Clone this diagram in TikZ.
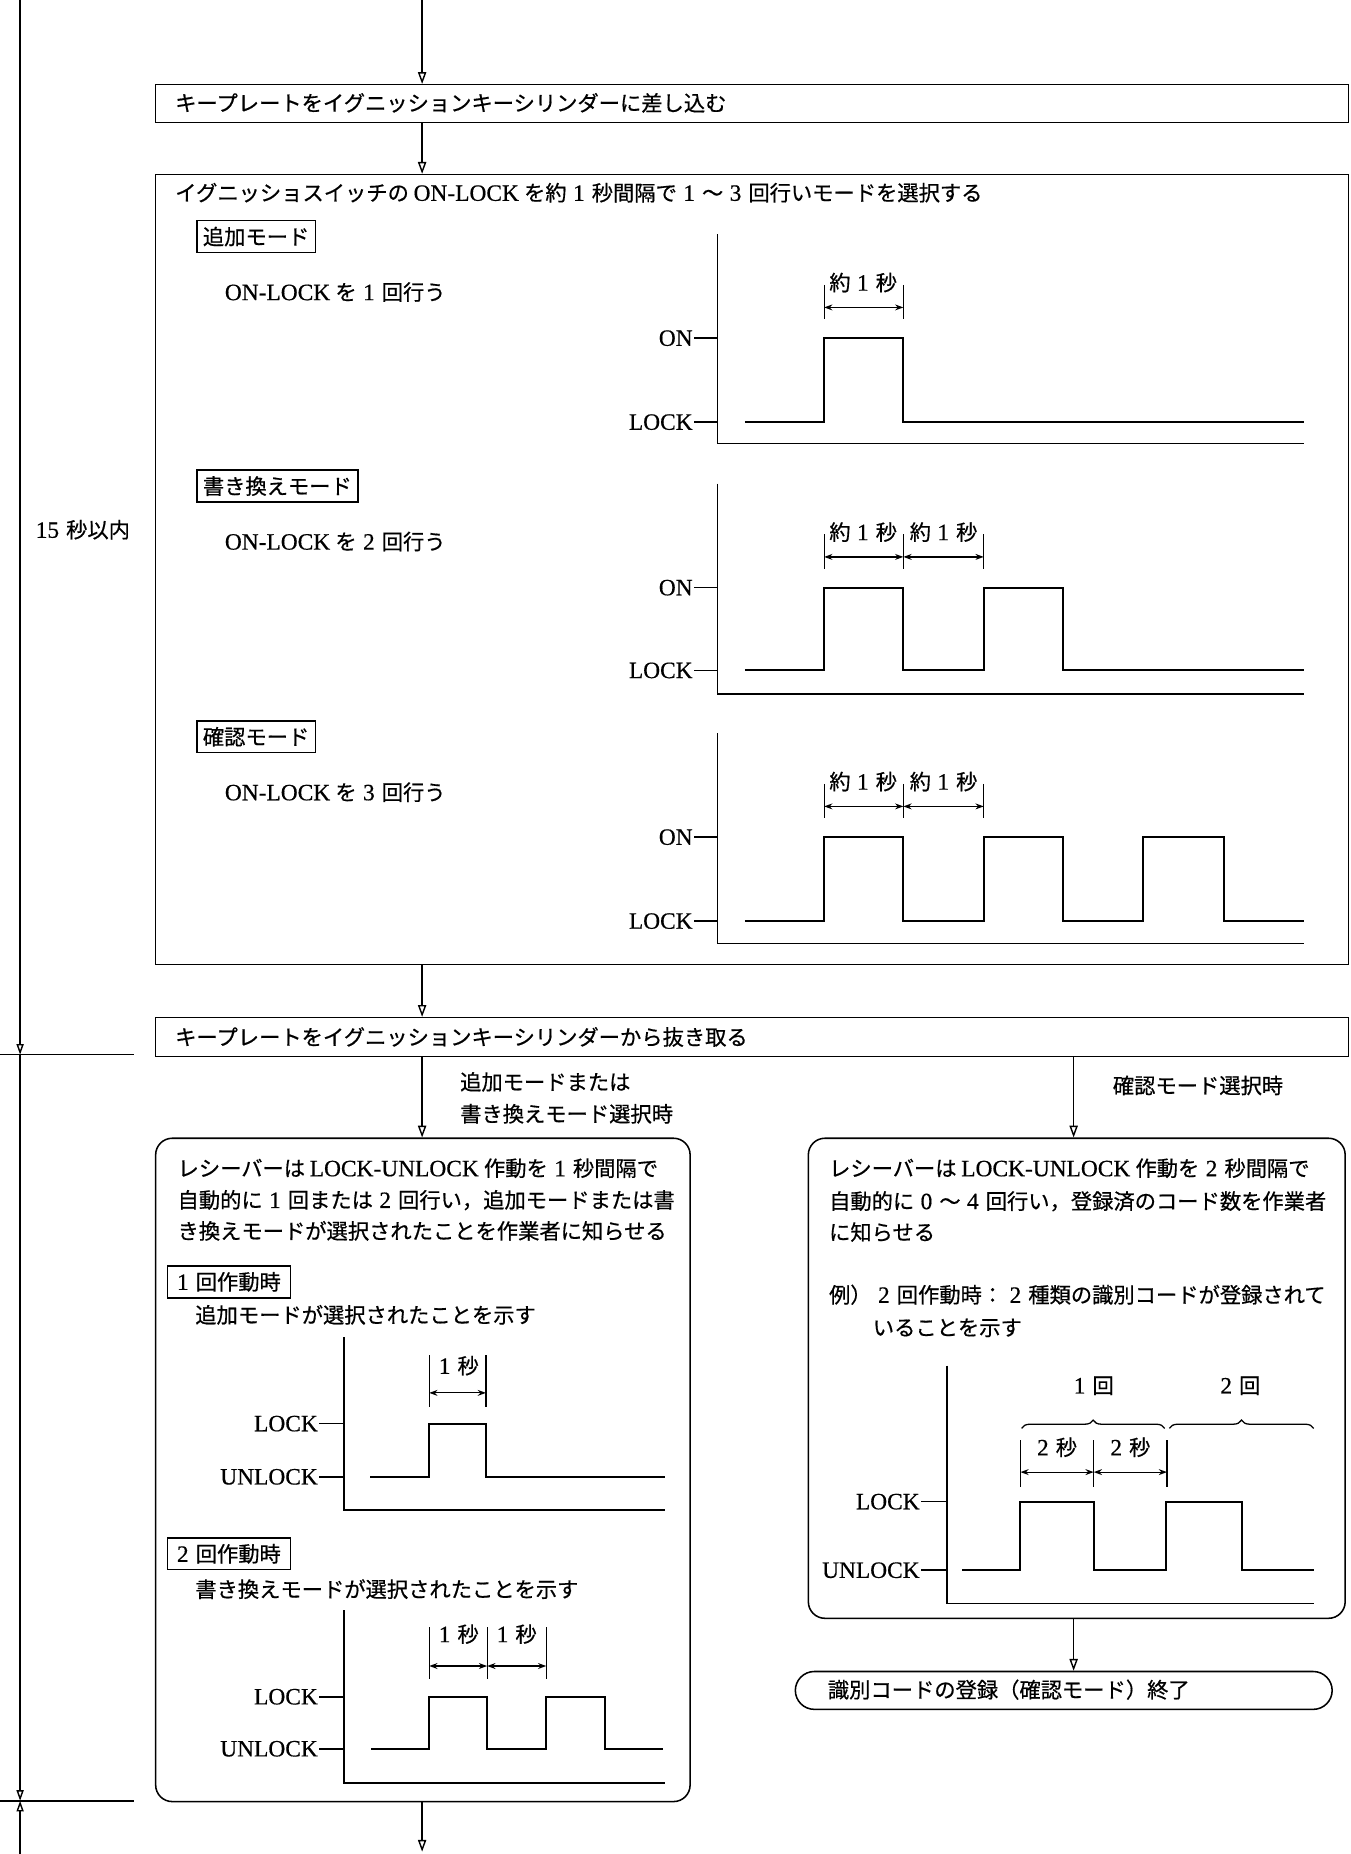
\documentclass[tikz,border=0pt]{standalone}
\usepackage{fontspec}
\setmainfont{Noto Sans CJK JP}[FakeBold=0.6]
\newfontfamily\cjkfont{Noto Sans CJK JP}[FakeBold=0.6]
\newfontfamily\latfont{Liberation Serif}[Scale=1.1,FakeBold=0.5]
\usetikzlibrary{arrows.meta,decorations.pathreplacing}
\newcount\jpcnt
\jpcnt="3000
\loop\ifnum\jpcnt<"A000 \XeTeXcharclass\jpcnt=100 \advance\jpcnt by 1 \repeat
\jpcnt="FF00
\loop\ifnum\jpcnt<"FFF0 \XeTeXcharclass\jpcnt=100 \advance\jpcnt by 1 \repeat
\jpcnt=`0
\loop\ifnum\jpcnt<58 \XeTeXcharclass\jpcnt=101 \advance\jpcnt by 1 \repeat
\XeTeXinterchartoks 0 100 = {\hskip.22em\cjkfont}
\XeTeXinterchartoks 100 0 = {\hskip.22em\latfont}
\XeTeXinterchartoks 4095 0 = {\latfont}
\XeTeXinterchartoks 4095 100 = {\cjkfont}
\XeTeXinterchartoks 4095 101 = {\latfont}
\XeTeXinterchartoks 100 101 = {\hskip.3em\latfont}
\XeTeXinterchartoks 101 100 = {\hskip.3em\cjkfont}
\XeTeXinterchartokenstate=1
\begin{document}
\begin{tikzpicture}[x=1pt,y=-1pt,
  every node/.style={font=\fontsize{18}{24}\selectfont, inner sep=0pt},
  box/.style={draw, line width=1.3pt, anchor=north west},
  tag/.style={draw, line width=1.2pt, anchor=north west, minimum height=27pt, inner xsep=5pt},
  txt/.style={anchor=west},
  flow/.style={line width=1.2pt, -{Triangle[open,length=10pt,width=7pt]}},
  tl/.style={line width=1.2pt, -{Triangle[open,length=9pt,width=6pt]}},
  sig/.style={line width=1.7pt},
  ax/.style={line width=1.3pt},
  tk/.style={line width=1pt},
  dimarr/.style={line width=1pt, {Stealth[open,length=7pt,width=5pt]}-{Stealth[open,length=7pt,width=5pt]}},
  rbox/.style={draw, line width=1.3pt, rounded corners=14pt, anchor=north west},
]
\useasboundingbox (0,0) rectangle (1142,1568);

% ---------- timeline ----------
\coordinate (tl0) at (17,0);
\coordinate (tl1) at (17,892);
\coordinate (tl2) at (17,1523);
\coordinate (tl3) at (17,1568);
\draw[tl] (tl0) -- (tl1);
\draw[tl] (tl1) -- (tl2);
\draw[tl] (tl3) -- (tl2);
\draw[ax] (0,892) -- (113,892);
\draw[ax] (0,1523) -- (113,1523);
\node[txt] (t15) at (30,448) {15秒以内};

% ---------- column coordinates ----------
\coordinate (cx) at (357,0);
\coordinate (cx2) at (908,0);
\coordinate (top) at (357,0);
\coordinate (bot) at (357,1566);

% ---------- box 1 ----------
\node[box, minimum width=1009pt, minimum height=32pt] (b1) at (131,71) {};
\node[txt] (b1t) at (148,87) {キープレートをイグニッションキーシリンダーに差し込む};
\draw[flow] (top) -- (b1.north -| cx);

% ---------- box 2 ----------
\node[box, minimum width=1009pt, minimum height=668pt] (b2) at (131,147) {};
\draw[flow] (b1.south -| cx) -- (b2.north -| cx);
\node[txt] (b2t) at (148,163) {イグニッショスイッチのON-LOCKを約1秒間隔で1〜3回行いモードを選択する};

% mode 1
\node[tag] (m1) at (166,186) {追加モード};
\node[txt] (m1t) at (190,247) {ON-LOCKを1回行う};
\draw[ax] (607,198) -- (607,375) -- (1103,375);
\draw[ax] (587,286) -- (607,286);
\draw[ax] (587,357) -- (607,357);
\node[anchor=east] (on1) at (586,286) {ON};
\node[anchor=east] (lk1) at (586,357) {LOCK};
\draw[sig] (630,357) -- (697,357) -- (697,286) -- (764,286) -- (764,357) -- (1103,357);
\draw[tk] (697,241) -- (697,270);
\draw[tk] (764,241) -- (764,270);
\draw[dimarr] (697,260) -- (764,260);
\node (d1) at (730,239) {約1秒};

% mode 2
\node[tag] (m2) at (166,397) {書き換えモード};
\node[txt] (m2t) at (190,458) {ON-LOCKを2回行う};
\draw[ax] (607,409) -- (607,587) -- (1103,587);
\draw[ax] (587,497) -- (607,497);
\draw[ax] (587,567) -- (607,567);
\node[anchor=east] (on2) at (586,497) {ON};
\node[anchor=east] (lk2) at (586,567) {LOCK};
\draw[sig] (630,567) -- (697,567) -- (697,497) -- (764,497) -- (764,567) -- (832,567) -- (832,497) -- (899,497) -- (899,567) -- (1103,567);
\draw[tk] (697,452) -- (697,481);
\draw[tk] (764,452) -- (764,481);
\draw[tk] (832,452) -- (832,481);
\draw[dimarr] (697,471) -- (764,471);
\draw[dimarr] (764,471) -- (832,471);
\node (d2a) at (730,450) {約1秒};
\node (d2b) at (798,450) {約1秒};

% mode 3
\node[tag] (m3) at (166,609) {確認モード};
\node[txt] (m3t) at (190,670) {ON-LOCKを3回行う};
\draw[ax] (607,620) -- (607,798) -- (1103,798);
\draw[ax] (587,708) -- (607,708);
\draw[ax] (587,779) -- (607,779);
\node[anchor=east] (on3) at (586,708) {ON};
\node[anchor=east] (lk3) at (586,779) {LOCK};
\draw[sig] (630,779) -- (697,779) -- (697,708) -- (764,708) -- (764,779) -- (832,779) -- (832,708) -- (899,708) -- (899,779) -- (967,779) -- (967,708) -- (1035,708) -- (1035,779) -- (1103,779);
\draw[tk] (697,663) -- (697,692);
\draw[tk] (764,663) -- (764,692);
\draw[tk] (832,663) -- (832,692);
\draw[dimarr] (697,682) -- (764,682);
\draw[dimarr] (764,682) -- (832,682);
\node (d3a) at (730,661) {約1秒};
\node (d3b) at (798,661) {約1秒};

% ---------- box 3 ----------
\node[box, minimum width=1009pt, minimum height=33pt] (b3) at (131,860) {};
\draw[flow] (b2.south -| cx) -- (b3.north -| cx);
\node[txt] (b3t) at (148,877) {キープレートをイグニッションキーシリンダーから抜き取る};

% ---------- left branch ----------
\node[rbox, minimum width=452pt, minimum height=561pt] (lb) at (131,962) {};
\draw[flow] (b3.south -| cx) -- (lb.north -| cx);
\node[txt] (la1) at (389,915) {追加モードまたは};
\node[txt] (la2) at (389,942) {書き換えモード選択時};
\node[txt] (lt1) at (150,988) {レシーバーはLOCK-UNLOCK作動を1秒間隔で};
\node[txt] (lt2) at (150,1015) {自動的に1回または2回行い，追加モードまたは書};
\node[txt] (lt3) at (150,1041) {き換えモードが選択されたことを作業者に知らせる};

\node[tag, minimum width=104pt] (n1) at (141,1070) {1回作動時};
\node[txt] (n1t) at (165,1112) {追加モードが選択されたことを示す};
\draw[ax] (291,1131) -- (291,1277) -- (562,1277);
\draw[ax] (270,1204) -- (291,1204);
\draw[ax] (270,1249) -- (291,1249);
\node[anchor=east] (lkl1) at (269,1204) {LOCK};
\node[anchor=east] (ull1) at (269,1249) {UNLOCK};
\draw[sig] (313,1249) -- (363,1249) -- (363,1204) -- (411,1204) -- (411,1249) -- (562,1249);
\draw[tk] (363,1146) -- (363,1190);
\draw[tk] (411,1146) -- (411,1190);
\draw[dimarr] (363,1178) -- (411,1178);
\node (dl1) at (388,1155) {1秒};

\node[tag, minimum width=104pt] (n2) at (141,1300) {2回作動時};
\node[txt] (n2t) at (165,1344) {書き換えモードが選択されたことを示す};
\draw[ax] (291,1362) -- (291,1508) -- (562,1508);
\draw[ax] (270,1435) -- (291,1435);
\draw[ax] (270,1479) -- (291,1479);
\node[anchor=east] (lkl2) at (269,1435) {LOCK};
\node[anchor=east] (ull2) at (269,1479) {UNLOCK};
\draw[sig] (314,1479) -- (363,1479) -- (363,1435) -- (412,1435) -- (412,1479) -- (462,1479) -- (462,1435) -- (512,1435) -- (512,1479) -- (561,1479);
\draw[tk] (363,1376) -- (363,1420);
\draw[tk] (412,1376) -- (412,1420);
\draw[tk] (462,1376) -- (462,1420);
\draw[dimarr] (363,1409) -- (412,1409);
\draw[dimarr] (412,1409) -- (462,1409);
\node (dl2a) at (388,1382) {1秒};
\node (dl2b) at (437,1382) {1秒};

\draw[flow] (lb.south -| cx) -- (bot);

% ---------- right branch ----------
\node[rbox, minimum width=454pt, minimum height=406pt] (rb) at (683,962) {};
\draw[flow] (b3.south -| cx2) -- (rb.north -| cx2);
\node[txt] (ra) at (941,918) {確認モード選択時};
\node[txt] (rt1) at (701,988) {レシーバーはLOCK-UNLOCK作動を2秒間隔で};
\node[txt] (rt2) at (701,1016) {自動的に0〜4回行い，登録済のコード数を作業者};
\node[txt] (rt3) at (701,1042) {に知らせる};
\node[txt] (rt4) at (701,1095) {例）2回作動時：2種類の識別コードが登録されて};
\node[txt] (rt5) at (738,1123) {いることを示す};

\draw[ax] (801,1155) -- (801,1356) -- (1111,1356);
\draw[ax] (779,1270) -- (801,1270);
\draw[ax] (779,1328) -- (801,1328);
\node[anchor=east] (lkr) at (778,1270) {LOCK};
\node[anchor=east] (ulr) at (778,1328) {UNLOCK};
\draw[sig] (814,1328) -- (863,1328) -- (863,1270) -- (925,1270) -- (925,1328) -- (986,1328) -- (986,1270) -- (1050,1270) -- (1050,1328) -- (1111,1328);
\draw[line width=1.1pt, decorate, decoration={brace, amplitude=7pt}] (864,1208) -- (985,1208);
\draw[line width=1.1pt, decorate, decoration={brace, amplitude=7pt}] (989,1208) -- (1111,1208);
\node (c1) at (925,1172) {1回};
\node (c2) at (1049,1172) {2回};
\draw[tk] (863,1218) -- (863,1258);
\draw[tk] (925,1218) -- (925,1258);
\draw[tk] (987,1218) -- (987,1258);
\draw[dimarr] (863,1245) -- (925,1245);
\draw[dimarr] (925,1245) -- (987,1245);
\node (dr1) at (894,1224) {2秒};
\node (dr2) at (956,1224) {2秒};

\node[draw, line width=1.3pt, rounded corners=16pt, anchor=north west, minimum width=454pt, minimum height=32pt] (term) at (672,1413) {};
\draw[flow] (rb.south -| cx2) -- (term.north -| cx2);
\node[txt] (termt) at (700,1429) {識別コードの登録（確認モード）終了};
\end{tikzpicture}
\end{document}
